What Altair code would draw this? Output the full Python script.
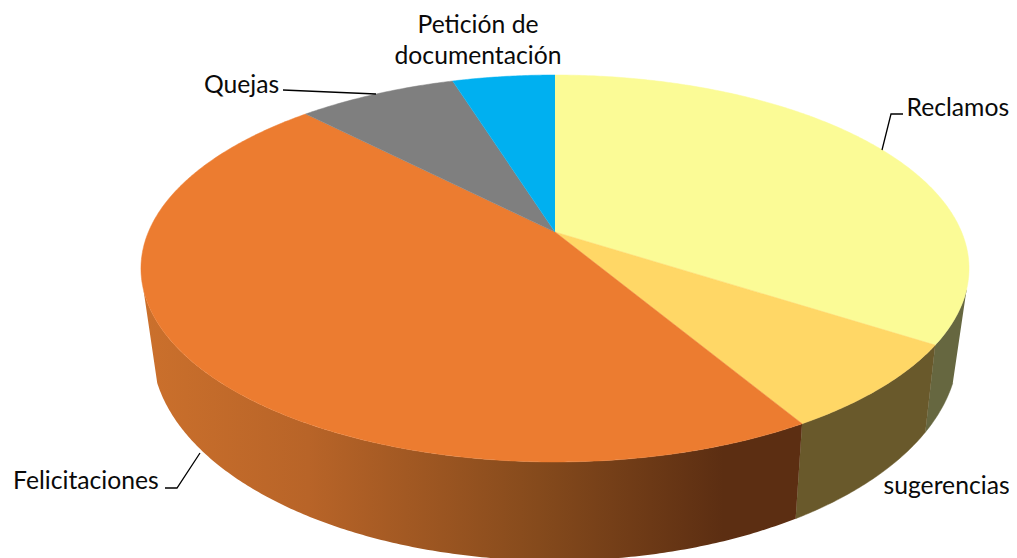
import math
import altair as alt
import pandas as pd

# Slice shares (percent), clockwise from 12 o'clock
categories = ["Reclamos", "sugerencias", "Felicitaciones", "Quejas", "Petición de documentación"]
shares = [34.15, 7.35, 46.25, 7.45, 4.8]
top_colors = ["#FBFB96", "#FFD766", "#EC7C30", "#7F7F7F", "#00B0F0"]
wall_colors = ["#666740", "#69592B"]

# Text labels and their leader lines, in reference-pixel space
label_text = ["Reclamos", "sugerencias", "Felicitaciones", "Quejas", "Petición de", "documentación"]
label_x = [906.5, 883.5, 13, 204, 478, 478]
label_y = [108.5, 486.5, 481.5, 85.5, 26, 57]
label_align = ["left", "left", "left", "left", "center", "center"]
leader_id = ["r", "r", "r", "f", "f", "f", "q", "q"]
leader_x = [903, 891, 882, 165, 177, 200, 283, 376]
leader_y = [114, 114, 150, 488, 488, 453, 90, 94]

# Perspective view of the disc
CX, CY, A, B, K = 555, 232, 406.6, 186.6, 0.1886
RIM_CY, RIM_A, RIM_B = 308, 396, 205
WALL_TOP = (107, 253)
WALL_RIM = (110, 250)


def project(theta, cy, a, b):
    t = math.radians(theta)
    u, v = math.sin(t), -math.cos(t)
    d = 1 - K * v
    return CX + a * u / d, cy + b * v / d


def arc(t0, t1, cy, a, b):
    n = max(2, int(abs(t1 - t0)) * 2)
    return [project(t0 + (t1 - t0) * i / n, cy, a, b) for i in range(n + 1)]


edges = [0.0]
for s in shares:
    edges.append(edges[-1] + s * 3.6 * 100 / sum(shares))

top_rows, wall_rows = [], []
for idx, name in enumerate(categories):
    t0, t1 = edges[idx], edges[idx + 1]
    pts = [(CX, CY)] + arc(t0, t1, CY, A, B)
    top_rows += [dict(part=name, i=i, x=p[0], y=p[1]) for i, p in enumerate(pts)]
    a0, a1 = max(t0, WALL_TOP[0]), min(t1, WALL_TOP[1])
    if a0 < a1:
        r0, r1 = max(t0, WALL_RIM[0]), min(t1, WALL_RIM[1])
        pts = arc(a0, a1, CY, A, B) + arc(r1, r0, RIM_CY, RIM_A, RIM_B)
        wall_rows += [dict(part=name, i=i, x=p[0], y=p[1]) for i, p in enumerate(pts)]

top_df = pd.DataFrame(top_rows)
wall_df = pd.DataFrame(wall_rows)
solid_walls = wall_df[wall_df.part != "Felicitaciones"]
orange_wall = wall_df[wall_df.part == "Felicitaciones"]

X = alt.X("x:Q", axis=None, scale=alt.Scale(domain=[8, 1009], nice=False, zero=False))
Y = alt.Y("y:Q", axis=None, scale=alt.Scale(domain=[8, 558], reverse=True, nice=False, zero=False))

solid = alt.Chart(solid_walls).mark_line(filled=True, strokeWidth=0.5).encode(
    x=X, y=Y, order="i:Q",
    fill=alt.Fill("part:N", legend=None,
                  scale=alt.Scale(domain=categories[:2], range=wall_colors)),
    stroke=alt.Stroke("part:N", legend=None,
                      scale=alt.Scale(domain=categories[:2], range=wall_colors)),
)

gradient = alt.Gradient(
    gradient="linear", x1=0, x2=1, y1=0, y2=0,
    stops=[
        alt.GradientStop(offset=0, color="#CB702C"),
        alt.GradientStop(offset=0.25, color="#B86428"),
        alt.GradientStop(offset=0.6, color="#854A1C"),
        alt.GradientStop(offset=0.88, color="#5C2E12"),
        alt.GradientStop(offset=1, color="#5C2E12"),
    ],
)
orange = alt.Chart(orange_wall).mark_line(filled=True, fill=gradient, strokeWidth=0).encode(
    x=X, y=Y, order="i:Q",
)

top = alt.Chart(top_df).mark_line(filled=True, strokeWidth=0.5).encode(
    x=X, y=Y, order="i:Q",
    fill=alt.Fill("part:N", legend=None, scale=alt.Scale(domain=categories, range=top_colors)),
    stroke=alt.Stroke("part:N", legend=None, scale=alt.Scale(domain=categories, range=top_colors)),
)

leaders = alt.Chart(pd.DataFrame(dict(id=leader_id, x=leader_x, y=leader_y, i=range(8)))).mark_line(
    color="#000000", strokeWidth=1.3
).encode(x=X, y=Y, detail="id:N", order="i:Q")

labels = [
    alt.Chart(pd.DataFrame(dict(t=[t], x=[x], y=[y]))).mark_text(
        align=al, baseline="middle", font="Lato", fontSize=24.7, color="#0A0A0A"
    ).encode(x=X, y=Y, text="t:N")
    for t, x, y, al in zip(label_text, label_x, label_y, label_align)
]

chart = alt.layer(solid, orange, top, leaders, *labels).resolve_scale(
    fill="independent", stroke="independent"
).properties(
    width=1001, height=550, padding=0,
    autosize=alt.AutoSizeParams(type="none"),
).configure_view(stroke=None)

chart.save("out.html", embed_options={"renderer": "svg", "actions": False})
